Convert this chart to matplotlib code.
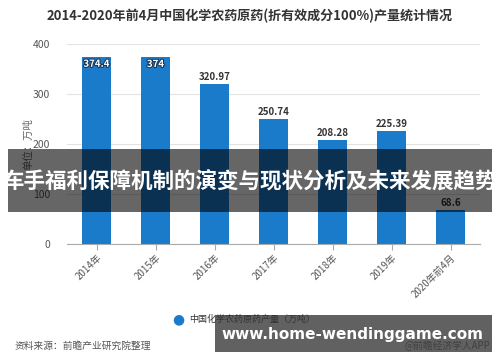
import matplotlib.pyplot as plt
import matplotlib.patheffects as pe
from matplotlib.patches import Rectangle

plt.rcParams['font.family'] = ['Noto Sans CJK SC', 'DejaVu Sans']

categories = ["2014年", "2015年", "2016年", "2017年", "2018年", "2019年", "2020年前4月"]
values = [374.4, 374, 320.97, 250.74, 208.28, 225.39, 68.6]
labels = ["374.4", "374", "320.97", "250.74", "208.28", "225.39", "68.6"]
yticks = [0, 100, 200, 300, 400]

bar_color = "#1a7bcb"

fig = plt.figure(figsize=(5, 3.62), dpi=100)
ax = fig.add_axes([67 / 500, 1 - 244 / 362, 413 / 500, 200 / 362])

x = list(range(len(categories)))
ax.bar(x, values, width=0.48, color=bar_color, zorder=2)
ax.set_xlim(-0.5, len(categories) - 0.5)
ax.set_ylim(0, 400)
ax.set_yticks(yticks)
ax.set_yticklabels([str(t) for t in yticks], fontsize=7.5, color="#555555")
ax.tick_params(axis="y", length=0, pad=12)
ax.set_xticks(x)
ax.set_xticklabels(categories, rotation=45, ha="right", rotation_mode="anchor",
                   fontsize=7, color="#555555")
ax.tick_params(axis="x", length=4, color="#aaaaaa", pad=2)
ax.grid(axis="y", color="#e3e3e3", linewidth=0.8, zorder=0)
for s in ["top", "right", "left"]:
    ax.spines[s].set_visible(False)
ax.spines["bottom"].set_color("#aaaaaa")
ax.set_ylabel("单位：万吨", fontsize=7.5, color="#666666", labelpad=0)

for xi, v, lab in zip(x, values, labels):
    if v > 360:
        ax.text(xi, v - 4, lab, ha="center", va="top", fontsize=7, color="white",
                fontweight="bold", zorder=3,
                path_effects=[pe.withStroke(linewidth=1.5, foreground="#1b3552")])
    else:
        ax.text(xi, v + 4, lab, ha="center", va="bottom", fontsize=7, color="#333333",
                fontweight="bold", zorder=3)

fig.text(0.5, 1 - 16 / 362, "2014-2020年前4月中国化学农药原药(折有效成分100%)产量统计情况",
         ha="center", va="center", fontsize=9.4, fontweight="bold", color="#333333")

# legend
fig.text(178 / 500, 1 - 319 / 362, "●", ha="center", va="center", fontsize=10,
         color=bar_color, family="DejaVu Sans")
fig.text(189 / 500, 1 - 319 / 362, "中国化学农药原药产量（万吨）", ha="left", va="center",
         fontsize=6.5, color="#333333", zorder=7)

fig.text(15 / 500, 1 - 346 / 362, "资料来源：前瞻产业研究院整理", ha="left", va="center",
         fontsize=7, color="#555555")
fig.text(490 / 500, 1 - 346 / 362, "@前瞻经济学人APP", ha="right", va="center",
         fontsize=7, color="#555555")

# overlay banners
fig.patches.append(Rectangle((8 / 500, 1 - 212 / 362), 484 / 500, 63 / 362,
                             transform=fig.transFigure, facecolor="black", alpha=0.6,
                             zorder=5))
fig.text(0.5, 1 - 182 / 362, "车手福利保障机制的演变与现状分析及未来发展趋势",
         ha="center", va="center", fontsize=15.5, fontweight="bold", color="white",
         zorder=6)
fig.patches.append(Rectangle((215 / 500, 1 - 352 / 362), 277 / 500, 37 / 362,
                             transform=fig.transFigure, facecolor="#3a3a3a", alpha=0.8,
                             zorder=5))
fig.text(352 / 500, 1 - 334 / 362, "www.home-wendinggame.com", ha="center", va="center",
         fontsize=11, fontweight="bold", color="white", family="DejaVu Sans", zorder=6)

fig.savefig("out.png", dpi=100)
